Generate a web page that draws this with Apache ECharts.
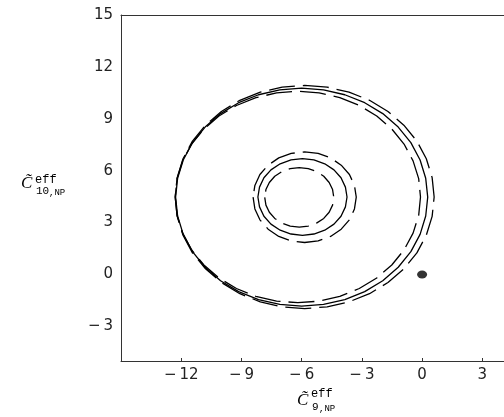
<!DOCTYPE html>
<html>
<head>
<meta charset="utf-8">
<script src="https://cdn.jsdelivr.net/npm/echarts@6/dist/echarts.min.js"></script>
<style>
  html, body { margin: 0; padding: 0; background: #fff; }
  #chart { width: 504px; height: 417px; }
</style>
</head>
<body>
<div id="chart"></div>
<script>
// contour points, [C9, C10]
var solidOuter = [
  [-12.28, 4.47], [-12.18, 3.38], [-11.90, 2.32], [-11.44, 1.32], [-10.81, 0.42],
  [-10.04, -0.36], [-9.14, -0.99], [-8.15, -1.45], [-7.09, -1.73], [-6.00, -1.83],
  [-4.91, -1.73], [-3.85, -1.45], [-2.86, -0.99], [-1.96, -0.36], [-1.19, 0.42],
  [-0.56, 1.32], [-0.10, 2.32], [0.18, 3.38], [0.28, 4.47],
  [0.18, 5.56], [-0.10, 6.62], [-0.56, 7.62], [-1.19, 8.52], [-1.96, 9.30],
  [-2.86, 9.93], [-3.85, 10.39], [-4.91, 10.67], [-6.00, 10.77],
  [-7.09, 10.67], [-8.15, 10.39], [-9.14, 9.93], [-10.04, 9.30], [-10.81, 8.52],
  [-11.44, 7.62], [-11.90, 6.62], [-12.18, 5.56], [-12.28, 4.47]
];
var dashedOuterWide = [
  [-12.30, 4.48], [-12.20, 3.36], [-11.91, 2.27], [-11.44, 1.25], [-10.79, 0.33],
  [-10.00, -0.46], [-9.08, -1.11], [-8.06, -1.58], [-6.97, -1.87], [-5.85, -1.97],
  [-4.73, -1.87], [-3.64, -1.58], [-2.62, -1.11], [-1.70, -0.46], [-0.91, 0.33],
  [-0.26, 1.25], [0.21, 2.27], [0.50, 3.36], [0.60, 4.48],
  [0.50, 5.60], [0.21, 6.69], [-0.26, 7.71], [-0.91, 8.63], [-1.70, 9.42],
  [-2.62, 10.07], [-3.64, 10.54], [-4.73, 10.83], [-5.85, 10.93],
  [-6.97, 10.83], [-8.06, 10.54], [-9.08, 10.07], [-10.00, 9.42], [-10.79, 8.63],
  [-11.44, 7.71], [-11.91, 6.69], [-12.20, 5.60], [-12.30, 4.48]
];
var dashedOuterNarrow = [
  [-12.30, 4.48], [-12.21, 3.42], [-11.93, 2.39], [-11.48, 1.42], [-10.87, 0.55],
  [-10.12, -0.20], [-9.25, -0.81], [-8.28, -1.26], [-7.25, -1.54], [-6.19, -1.63],
  [-5.13, -1.54], [-4.10, -1.26], [-3.13, -0.81], [-2.26, -0.20], [-1.51, 0.55],
  [-0.90, 1.42], [-0.45, 2.39], [-0.17, 3.42], [-0.08, 4.48],
  [-0.17, 5.54], [-0.45, 6.57], [-0.90, 7.54], [-1.51, 8.41], [-2.26, 9.16],
  [-3.13, 9.77], [-4.10, 10.22], [-5.13, 10.50], [-6.19, 10.59],
  [-7.25, 10.50], [-8.28, 10.22], [-9.25, 9.77], [-10.12, 9.16], [-10.87, 8.41],
  [-11.48, 7.54], [-11.93, 6.57], [-12.21, 5.54], [-12.30, 4.48]
];
var solidInner = [
  [-8.18, 4.48], [-8.10, 3.91], [-7.88, 3.37], [-7.53, 2.91], [-7.07, 2.56],
  [-6.53, 2.34], [-5.96, 2.26], [-5.39, 2.34], [-4.85, 2.56], [-4.39, 2.91],
  [-4.04, 3.37], [-3.82, 3.91], [-3.74, 4.48], [-3.82, 5.05], [-4.04, 5.59],
  [-4.39, 6.05], [-4.85, 6.40], [-5.39, 6.62], [-5.96, 6.70], [-6.53, 6.62],
  [-7.07, 6.40], [-7.53, 6.05], [-7.88, 5.59], [-8.10, 5.05], [-8.18, 4.48]
];
var dashedInnerWide = [
  [-8.42, 4.47], [-8.33, 3.79], [-8.08, 3.16], [-7.67, 2.62], [-7.14, 2.20],
  [-6.52, 1.94], [-5.85, 1.85], [-5.18, 1.94], [-4.56, 2.20], [-4.03, 2.62],
  [-3.62, 3.16], [-3.37, 3.79], [-3.28, 4.47], [-3.37, 5.15], [-3.62, 5.78],
  [-4.03, 6.32], [-4.56, 6.74], [-5.18, 7.00], [-5.85, 7.09], [-6.52, 7.00],
  [-7.14, 6.74], [-7.67, 6.32], [-8.08, 5.78], [-8.33, 5.15], [-8.42, 4.47]
];
var dashedInnerNarrow = [
  [-7.84, 4.46], [-7.78, 4.01], [-7.61, 3.60], [-7.34, 3.24], [-6.98, 2.97],
  [-6.57, 2.80], [-6.12, 2.74], [-5.67, 2.80], [-5.26, 2.97], [-4.90, 3.24],
  [-4.63, 3.60], [-4.46, 4.01], [-4.40, 4.46], [-4.46, 4.91], [-4.63, 5.32],
  [-4.90, 5.68], [-5.26, 5.95], [-5.67, 6.12], [-6.12, 6.18], [-6.57, 6.12],
  [-6.98, 5.95], [-7.34, 5.68], [-7.61, 5.32], [-7.78, 4.91], [-7.84, 4.46]
];
var smPoint = [[0, 0]];

var xTicks = [-12, -9, -6, -3, 0, 3];
var yTicks = [-3, 0, 3, 6, 9, 12, 15];

var chart = echarts.init(document.getElementById("chart"));

function tickText(v) {
  return v < 0 ? "\u2212\u2009" + (-v) : String(v);
}

var labelStyle = {
  fontFamily: "DejaVu Sans",
  fontSize: 15,
  color: "#222",
};

function contour(data, dashed) {
  return {
    type: "line",
    data: data,
    symbol: "none",
    silent: true,
    lineStyle: {
      color: "#000",
      width: 1.3,
      type: dashed ? [26, 8] : "solid",
    },
  };
}

var option = {
  animation: false,
  backgroundColor: "#fff",
  grid: { left: 121, right: 0, top: 15, bottom: 56 },
  xAxis: [
    {
      type: "value",
      min: -15,
      max: 4.08,
      interval: 3,
      splitLine: { show: false },
      axisLine: { onZero: false, lineStyle: { color: "#333", width: 1 } },
      axisTick: {
        inside: true,
        length: 3,
        customValues: xTicks,
        lineStyle: { color: "#333" },
      },
      axisLabel: Object.assign(
        { margin: 7, customValues: xTicks, formatter: tickText },
        labelStyle
      ),
    },
    {
      type: "value",
      position: "top",
      min: -15,
      max: 4.08,
      splitLine: { show: false },
      axisLine: { onZero: false, lineStyle: { color: "#333", width: 1 } },
      axisTick: { show: false },
      axisLabel: { show: false },
    },
  ],
  yAxis: {
    type: "value",
    min: -5,
    max: 15,
    splitLine: { show: false },
    axisLine: { onZero: false, lineStyle: { color: "#333", width: 1 } },
    axisTick: { show: false },
    axisLabel: Object.assign(
      { margin: 8, customValues: yTicks, formatter: tickText },
      labelStyle
    ),
  },
  series: [
    contour(solidOuter, false),
    contour(dashedOuterWide, true),
    contour(dashedOuterNarrow, true),
    contour(solidInner, false),
    contour(dashedInnerWide, true),
    contour(dashedInnerNarrow, true),
    {
      type: "scatter",
      data: smPoint,
      symbol: "circle",
      symbolSize: [10, 8],
      itemStyle: { color: "#000" },
      silent: true,
    },
  ],
  graphic: [
    // y axis name
    { type: "text", left: 21, top: 175,
      style: { text: "C\u0303", font: "italic 17px 'Liberation Serif'", fill: "#000" } },
    { type: "text", left: 35, top: 174,
      style: { text: "eff", font: "12px 'Liberation Mono'", fill: "#000" } },
    { type: "text", left: 36, top: 186,
      style: { text: "10", font: "11px 'Liberation Mono'", fill: "#000" } },
    { type: "text", left: 49, top: 188,
      style: { text: ",NP", font: "9px 'Liberation Mono'", fill: "#000" } },
    // x axis name
    { type: "text", left: 297, top: 392,
      style: { text: "C\u0303", font: "italic 17px 'Liberation Serif'", fill: "#000" } },
    { type: "text", left: 311, top: 388,
      style: { text: "eff", font: "12px 'Liberation Mono'", fill: "#000" } },
    { type: "text", left: 312, top: 402,
      style: { text: "9", font: "11px 'Liberation Mono'", fill: "#000" } },
    { type: "text", left: 319, top: 404,
      style: { text: ",NP", font: "9px 'Liberation Mono'", fill: "#000" } },
  ],
};

chart.setOption(option);
</script>
</body>
</html>
